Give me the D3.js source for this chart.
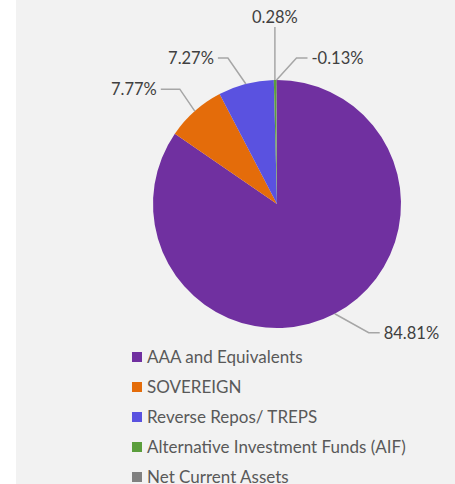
<!DOCTYPE html>
<html><head><meta charset="utf-8">
<script src="https://cdn.jsdelivr.net/npm/d3@7/dist/d3.min.js"></script>
<style>
html,body{margin:0;padding:0;background:#fff;}
svg{display:block;}
</style></head>
<body>
<svg id="c" width="455" height="484"></svg>
<script>
const categories = ["AAA and Equivalents","SOVEREIGN","Reverse Repos/ TREPS","Alternative Investment Funds (AIF)","Net Current Assets"];
const values = [84.81, 7.77, 7.27, 0.28, -0.13];
const labels = ["84.81%","7.77%","7.27%","0.28%","-0.13%"];
const colors = ["#7030A0","#E46C0A","#5A52E0","#5B9E3C","#808080"];

// layout for leader lines: elbow & end offsets relative to the slice edge point
const leader = [
  {ex:34, ey:19, hx:11, anchor:"start"},
  {ex:-15, ey:-22, hx:-19, anchor:"end"},
  {ex:-18, ey:-26, hx:-10, anchor:"end"},
  {ex:0, ey:-53, hx:0, anchor:"middle"},
  {ex:20, ey:-22, hx:11, anchor:"start"}
];

const svg = d3.select("#c");
svg.append("rect").attr("x",16).attr("y",0).attr("width",439).attr("height",484).attr("fill","#F2F2F2");

const cx = 277, cy = 204, R = 124;
const g = svg.append("g").attr("transform",`translate(${cx},${cy})`);
const pie = d3.pie().sort(null).value(d=>Math.abs(d)).startAngle(0).endAngle(2*Math.PI);
const arcs = pie(values);
const arc = d3.arc().innerRadius(0).outerRadius(R);
g.selectAll("path.s").data(arcs).join("path").attr("class","s")
  .attr("d",arc).attr("fill",(d,i)=>colors[i]);

const font = "Lato, 'Open Sans', sans-serif";
arcs.forEach((a,i)=>{
  const m = (a.startAngle+a.endAngle)/2;
  const px = R*Math.sin(m), py = -R*Math.cos(m);
  const L = leader[i];
  const ex = px+L.ex, ey = py+L.ey, hx = ex+L.hx;
  g.append("polyline").attr("points",`${px},${py} ${ex},${ey} ${hx},${ey}`)
    .attr("fill","none").attr("stroke","#A6A6A6").attr("stroke-width",1.5);
  let tx = hx, ty = ey;
  if(L.anchor==="start") tx = hx+4;
  else if(L.anchor==="end") tx = hx-4;
  else ty = ey-10;
  g.append("text").attr("x",tx).attr("y",ty).attr("dy","0.35em")
    .attr("text-anchor",L.anchor).attr("font-family",font).attr("font-size",16.5)
    .attr("fill","#404040").text(labels[i]);
});

const lg = svg.append("g").attr("transform","translate(132,357)");
categories.forEach((c,i)=>{
  const row = lg.append("g").attr("transform",`translate(0,${i*30})`);
  row.append("rect").attr("x",0).attr("y",-5).attr("width",10).attr("height",10).attr("fill",colors[i]);
  row.append("text").attr("x",15).attr("y",0).attr("dy","0.36em")
    .attr("font-family",font).attr("font-size",17).attr("fill","#595959").text(c);
});
</script>
</body></html>
